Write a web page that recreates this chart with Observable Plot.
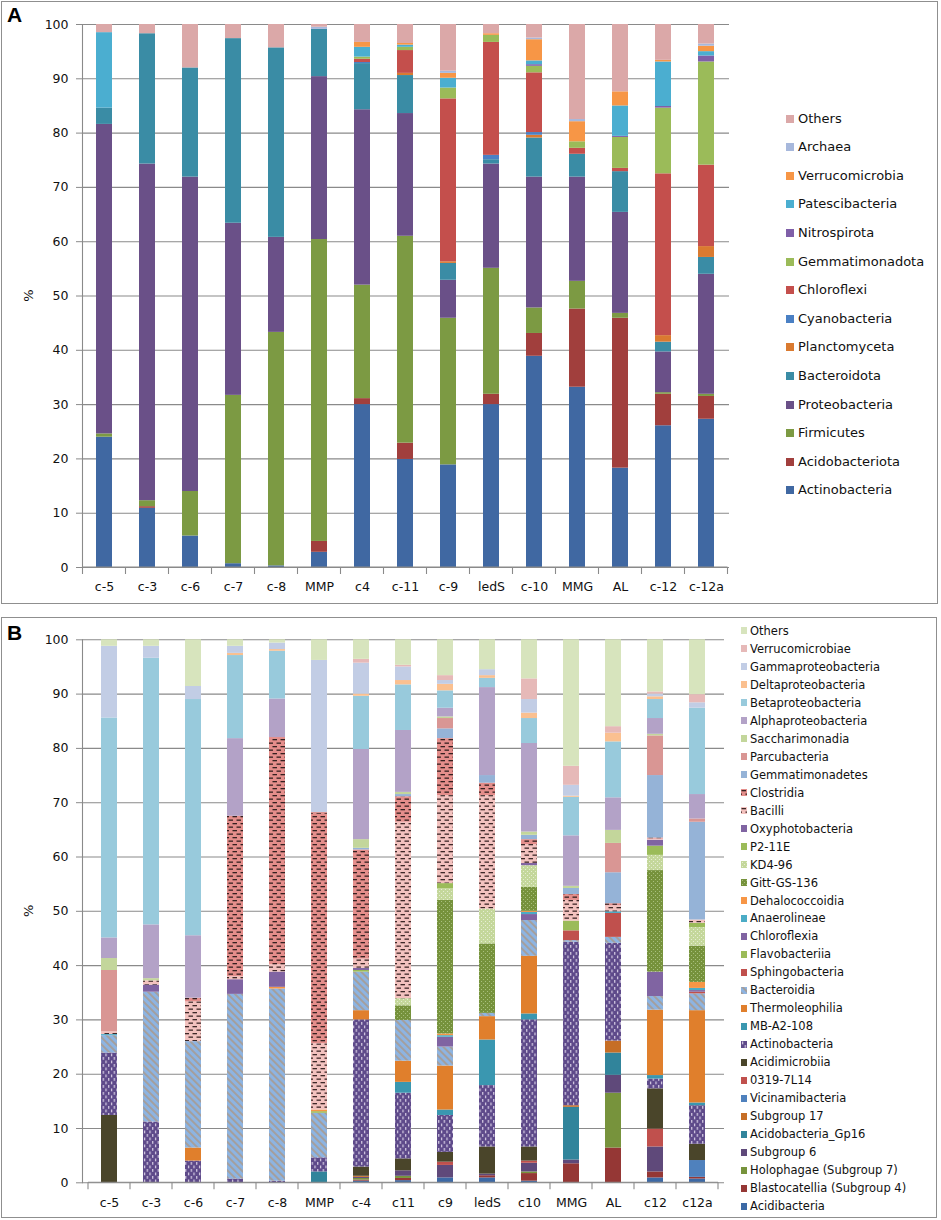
<!DOCTYPE html>
<html><head><meta charset="utf-8">
<script src="https://cdn.jsdelivr.net/npm/d3@7"></script>
<script src="https://cdn.jsdelivr.net/npm/@observablehq/plot@0.6"></script>
<style>
body{margin:0;background:#fff;font-family:"DejaVu Sans",sans-serif;color:#111;}
#wrap{position:relative;width:941px;height:1220px;overflow:hidden;}
.frame{position:absolute;border:1.5px solid #8f8f8f;box-sizing:border-box;}
.plabel{position:absolute;font:bold 21px "Liberation Sans",Arial,sans-serif;color:#000;}
.item{position:absolute;white-space:nowrap;display:flex;align-items:center;}
.item svg{flex:none;}
</style></head><body><div id="wrap"></div>
<script>
// ---------------- DATA ----------------
const samplesA = ["c-5","c-3","c-6","c-7","c-8","MMP","c4","c-11","c-9","ledS","c-10","MMG","AL","c-12","c-12a"];
const samplesB = ["c-5","c-3","c-6","c-7","c-8","MMP","c-4","c11","c9","ledS","c10","MMG","AL","c12","c12a"];
const yTicks = [0,10,20,30,40,50,60,70,80,90,100];

// Panel A (phyla), stacked bottom -> top
const actinobacteriaA  = [24.0,10.9,5.8,0.7,0.3,2.8,30.0,19.9,18.9,30.0,38.9,33.2,18.3,26.1,27.3];
const acidobacteriotaA = [0,0.3,0,0,0,2.0,1.1,3.0,0,1.9,4.2,14.4,27.6,5.8,4.2];
const firmicutesA      = [0.6,1.1,8.2,31.0,43.0,55.6,20.9,38.1,27.0,23.2,4.7,5.1,0.9,0.3,0.4];
const proteobacteriaA  = [57.0,62.0,57.9,31.7,17.5,30.0,32.3,22.6,7.0,19.2,24.1,19.2,18.6,7.5,22.1];
const bacteroidotaA    = [3.0,24.0,20.1,34.0,34.9,8.7,8.5,7.0,3.1,0.8,7.2,4.2,7.5,1.8,3.1];
const planctomycetaA   = [0,0,0,0,0,0,0,0.4,0.3,0,0.5,0,0,1.2,2.0];
const cyanobacteriaA   = [0,0,0,0,0,0,0.2,0,0,0.8,0.5,0,0,0,0];
const chloroflexiA     = [0,0,0,0,0,0,0.6,4.2,30.0,20.8,11.0,1.1,0.6,29.8,15.0];
const gemmatimonadotaA = [0,0,0,0,0,0,0.4,0.6,2.0,1.3,1.2,1.2,5.7,12.1,19.0];
const nitrospirotaA    = [0,0,0,0,0,0,0,0,0,0,0.3,0,0.2,0.3,1.1];
const patescibacteriaA = [13.9,0,0,0,0,0,1.8,0.4,1.8,0,0.7,0,5.6,8.2,0.8];
const verrucomicrobiaA = [0,0,0,0,0,0,0.9,0.3,0.9,0.3,3.9,3.7,2.6,0.3,1.0];
const archaeaA         = [0,0,0,0,0,0.4,0,0,0.4,0,0.3,0.4,0,0,0.4];
const othersA          = [1.5,1.7,8.0,2.6,4.3,0.5,3.3,3.5,8.6,1.7,2.5,17.5,12.4,6.6,3.6];

// Panel B (classes), stacked bottom -> top
const acidibacteriaB    = [0,0,0,0,0,0,0.3,0.4,0.9,0.9,0.3,0,0,0.9,0.7];
const blastocatelliaB   = [0,0,0,0,0,0,0.2,0.4,0,0.4,1.4,3.5,6.4,1.1,0.3];
const holophagaeB       = [0,0,0,0,0,0,0.3,0.4,0,0,0.3,0,10.1,0,0];
const subgroup6B        = [0,0,0,0,0,0,0.2,1.0,2.3,0.3,1.6,0.7,3.3,4.6,0];
const gp16B             = [0,0,0,0,0,2.0,0,0,0,0,0,9.7,4.1,0,0];
const subgroup17B       = [0,0,0,0,0,0,0.2,0,0,0,0,0.3,2.2,0,0];
const vicinamibacteriaB = [0,0,0,0,0,0,0,0,0,0,0,0,0,0,3.1];
const x0319B            = [0,0,0,0,0,0,0,0,0.6,0,0.4,0,0,3.3,0];
const acidimicrobiiaB   = [12.4,0,0,0,0,0,1.7,2.2,1.8,5.0,2.6,0,0,7.4,3.0];
const actinobacteriaB   = [11.5,11.2,4.0,0.7,0.3,2.6,27.1,12.1,6.8,11.3,23.4,30.1,18.0,1.8,7.1];
const mbA2108B          = [0,0,0,0,0,0,0,2.0,1.0,8.4,1.1,0,0,0.65,0.5];
const thermoleophiliaB  = [0,0,2.4,0,0,0,1.7,3.9,8.1,4.3,10.6,0,0,12.05,17.0];
const bacteroidiaB      = [3.2,23.9,19.6,34.0,35.4,8.2,7.1,7.5,3.5,0.6,6.6,0.3,1.1,2.5,3.1];
const sphingobacteriaB  = [0,0,0,0,0,0,0,0,0,0,0,1.8,4.4,0,0.3];
const flavobacteriiaB   = [0,0,0,0,0,0.3,0.3,0,0,0,0,1.8,0,0,0];
const chloroflexiaB     = [0,0,0,0,0,0,0.4,0,1.8,0,1.1,0,0,4.5,0.3];
const anaerolineaeB     = [0.2,0,0,0,0,0,0,0,0.3,0,0.4,0,0.3,0,0.4];
const dehalococcoidiaB  = [0,0,0,0,0.3,0.3,0,0,0.3,0,0.2,0,0,0,1.1];
const gittB             = [0,0,0,0,0,0,0,2.7,24.6,12.8,4.4,0,0,18.7,6.7];
const kd496B            = [0,0,0,0,0,0,0,1.3,2.2,6.4,4.0,0,0,2.8,3.4];
const p211eB            = [0,0,0,0,0,0,0,0,0.9,0,0,0,0,1.7,0.8];
const oxyphotoB         = [0,1.3,0,2.7,2.8,0,0,0,0,0,0.4,0,0,1.1,0];
const bacilliB          = [0.5,0.8,7.3,0.6,1.4,12.2,1.7,32.5,16.2,20.9,3.5,3.8,1.1,0.2,0.6];
const clostridiaB       = [0,0,0.7,29.5,41.8,42.4,20.1,4.7,10.5,2.3,0.9,1.1,0.4,0.2,0];
const gemmatimonadetesB = [0,0,0,0,0,0,0.3,0.4,1.8,1.4,0.8,1.1,5.7,11.5,18.0];
const parcubacteriaB    = [11.3,0,0,0,0,0.2,0,0,1.9,0,0,0,5.4,7.3,0.6];
const saccharimonadiaB  = [2.2,0.4,0,0,0,0,1.6,0.4,0.3,0,0.6,0.4,2.4,0.3,0];
const alphaB            = [3.8,9.9,11.5,14.3,7.1,0,16.6,11.4,1.6,16.2,16.3,9.3,6.0,2.9,4.5];
const betaB             = [40.5,49.1,43.5,15.3,8.8,0,9.8,8.4,3.2,1.7,4.6,7.1,10.3,3.5,15.9];
const deltaB            = [0,0,0,0.4,0.3,0,0.4,0.8,1.2,0.5,1.0,0.2,1.6,0.5,0];
const gammaB            = [13.2,2.2,2.4,1.3,1.2,28.0,5.7,2.5,0.7,1.1,2.5,2.0,0,0.5,1.0];
const verrucomicrobiaeB = [0,0,0,0,0,0,0.7,0.3,0.9,0,3.8,3.5,1.2,0.4,1.5];
const othersB           = [1.2,1.2,8.6,1.2,0.6,3.8,3.6,4.7,6.6,5.5,7.2,23.3,16.0,9.6,10.1];

const seriesA = [
  ["Actinobacteria", actinobacteriaA], ["Acidobacteriota", acidobacteriotaA], ["Firmicutes", firmicutesA],
  ["Proteobacteria", proteobacteriaA], ["Bacteroidota", bacteroidotaA], ["Planctomyceta", planctomycetaA],
  ["Cyanobacteria", cyanobacteriaA], ["Chloroflexi", chloroflexiA], ["Gemmatimonadota", gemmatimonadotaA],
  ["Nitrospirota", nitrospirotaA], ["Patescibacteria", patescibacteriaA], ["Verrucomicrobia", verrucomicrobiaA],
  ["Archaea", archaeaA], ["Others", othersA]
];
const seriesB = [
  ["Acidibacteria", acidibacteriaB], ["Blastocatellia (Subgroup 4)", blastocatelliaB], ["Holophagae (Subgroup 7)", holophagaeB],
  ["Subgroup 6", subgroup6B], ["Acidobacteria_Gp16", gp16B], ["Subgroup 17", subgroup17B], ["Vicinamibacteria", vicinamibacteriaB],
  ["0319-7L14", x0319B], ["Acidimicrobiia", acidimicrobiiaB], ["Actinobacteria", actinobacteriaB], ["MB-A2-108", mbA2108B],
  ["Thermoleophilia", thermoleophiliaB], ["Bacteroidia", bacteroidiaB], ["Sphingobacteria", sphingobacteriaB],
  ["Flavobacteriia", flavobacteriiaB], ["Chloroflexia", chloroflexiaB], ["Anaerolineae", anaerolineaeB],
  ["Dehalococcoidia", dehalococcoidiaB], ["Gitt-GS-136", gittB], ["KD4-96", kd496B], ["P2-11E", p211eB],
  ["Oxyphotobacteria", oxyphotoB], ["Bacilli", bacilliB], ["Clostridia", clostridiaB], ["Gemmatimonadetes", gemmatimonadetesB],
  ["Parcubacteria", parcubacteriaB], ["Saccharimonadia", saccharimonadiaB], ["Alphaproteobacteria", alphaB],
  ["Betaproteobacteria", betaB], ["Deltaproteobacteria", deltaB], ["Gammaproteobacteria", gammaB],
  ["Verrucomicrobiae", verrucomicrobiaeB], ["Others", othersB]
];

// ---------------- STYLES ----------------
const paletteA = ["#4068A2","#A13F3D","#7C9A43","#6A5088","#3A8CA5","#DA7A30","#4A80C4","#C44F4C","#9BBB59","#7F5FA8","#4BAED0","#F79646","#A7B8DC","#DBA8A8"];
const paletteB = ["#3C69A5","#953735","#77933C","#5F497A","#31849B","#C66E26","#4F81BD","#C0504D","#4A452A","url(#pActino)","#3A97B0",
  "#E07F2C","url(#pBacteroidia)","#C0504D","#9BBB59","#8064A2","#4BACC6","#F79646","url(#pGitt)","url(#pKD4)","#9BBB59",
  "#8064A2","url(#pBacilli)","url(#pClostridia)","#95B3D7","#D99694","#C3D69B","#B3A2C7","#98CADC","#FAC090","#C2CDE5","#E6B9B8","#D7E4BD"];

const patternDefs = `
<pattern id="pActino" patternUnits="userSpaceOnUse" width="5.5" height="7"><rect width="5.5" height="7" fill="#5E4A8A"/><rect x="1" y="0.5" width="1.1" height="2.8" fill="#E4DCEF"/><rect x="3.75" y="4" width="1.1" height="2.8" fill="#E4DCEF"/></pattern>
<pattern id="pBacilli" patternUnits="userSpaceOnUse" width="8" height="7"><rect width="8" height="7" fill="#F3C2BF"/><rect x="0.5" y="1" width="4.5" height="1.3" fill="#3E2828"/><rect x="4.5" y="4.5" width="3.5" height="1.3" fill="#3E2828"/><rect x="0" y="4.5" width="1" height="1.3" fill="#3E2828"/></pattern>
<pattern id="pClostridia" patternUnits="userSpaceOnUse" width="8" height="7"><rect width="8" height="7" fill="#E48E8B"/><rect x="0.5" y="1" width="4.5" height="1.3" fill="#352020"/><rect x="4.5" y="4.5" width="3.5" height="1.3" fill="#352020"/><rect x="0" y="4.5" width="1" height="1.3" fill="#352020"/></pattern>
<pattern id="pBacteroidia" patternUnits="userSpaceOnUse" width="5" height="5" patternTransform="rotate(-45)"><rect width="5" height="5" fill="#8DB4E2"/><rect x="0" y="0" width="1.9" height="5" fill="#A59E9A"/></pattern>
<pattern id="pGitt" patternUnits="userSpaceOnUse" width="4" height="4"><rect width="4" height="4" fill="#76923C"/><rect x="1" y="1" width="1" height="1" fill="#A9C07E"/><rect x="3" y="3" width="1" height="1" fill="#A9C07E"/></pattern>
<pattern id="pKD4" patternUnits="userSpaceOnUse" width="4" height="4"><rect width="4" height="4" fill="#C4D79B"/><rect x="1" y="1" width="1" height="1" fill="#E6EED3"/><rect x="3" y="3" width="1" height="1" fill="#E6EED3"/></pattern>`;

const wrap = document.getElementById("wrap");

function addFrame(l, t, w, h) {
  const d = document.createElement("div");
  d.className = "frame";
  Object.assign(d.style, {left: l + "px", top: t + "px", width: w + "px", height: h + "px"});
  wrap.appendChild(d);
}
function addLabel(txt, l, t) {
  const d = document.createElement("div");
  d.className = "plabel"; d.textContent = txt;
  Object.assign(d.style, {left: l + "px", top: t + "px"});
  wrap.appendChild(d);
}

function panel({samples, series, palette, top, height, mt, mb, mr, withDefs}) {
  const names = series.map(d => d[0]);
  const rows = [];
  series.forEach(([name, vals]) => vals.forEach((v, j) => { if (v > 0) rows.push({sample: samples[j], taxon: name, value: v}); }));
  const svg = Plot.plot({
    width: 941, height,
    marginLeft: 82, marginRight: mr, marginTop: mt, marginBottom: mb,
    style: {fontFamily: "DejaVu Sans, sans-serif", fontSize: "12.5px", color: "#111", background: "transparent", overflow: "visible"},
    x: {domain: samples, paddingInner: 0.62, paddingOuter: 0.31, label: null},
    y: {domain: [0, 100], label: null},
    color: {type: "ordinal", domain: names, range: palette},
    marks: [
      Plot.gridY(yTicks, {stroke: "#8a8a8a", strokeOpacity: 1, strokeWidth: 1.1}),
      Plot.barY(rows, {x: "sample", y: "value", fill: "taxon", order: names}),
      Plot.axisY(yTicks, {tickSize: 6, tickPadding: 8, stroke: "#8a8a8a", fill: "#111", label: null}),
      Plot.axisX({tickSize: 0, tickPadding: 15, fill: "#111", label: null}),
      Plot.frame({anchor: "left", stroke: "#8a8a8a", strokeWidth: 1.1})
    ]
  });
  svg.style.position = "absolute"; svg.style.left = "0px"; svg.style.top = top + "px";
  if (withDefs) d3.select(svg).insert("defs", ":first-child").html(patternDefs);
  // band boundary tick marks on the x axis, derived from the x scale
  const xs = svg.scale("x"), ys = svg.scale("y");
  const step = xs.step ?? (xs.apply(samples[1]) - xs.apply(samples[0]));
  const bw = xs.bandwidth;
  const half = (step - bw) / 2;
  const bounds = samples.map(s => xs.apply(s) - half).concat([xs.apply(samples[samples.length - 1]) + bw + half]);
  const y0 = ys.apply(0);
  const g = d3.select(svg).append("g").attr("stroke", "#8a8a8a").attr("stroke-width", 1.1);
  bounds.forEach(b => g.append("line").attr("x1", b).attr("x2", b).attr("y1", y0).attr("y2", y0 + 7));
  g.append("line").attr("x1", bounds[0]).attr("x2", bounds[bounds.length - 1]).attr("y1", y0).attr("y2", y0);
  // "%" label
  d3.select(svg).append("text").attr("transform", `translate(33,${ys.apply(50)}) rotate(-90)`)
    .attr("text-anchor", "middle").attr("font-size", 13).attr("fill", "#111").text("%");
  wrap.appendChild(svg);
  return svg;
}

function legend(series, palette, {x, y0, dy, sw, sh, fs, gap}) {
  const n = series.length;
  for (let i = 0; i < n; i++) {
    const k = n - 1 - i;
    const d = document.createElement("div");
    d.className = "item";
    Object.assign(d.style, {left: x + "px", top: (y0 + i * dy - fs * 0.7) + "px", fontSize: fs + "px", height: (fs * 1.4) + "px", lineHeight: (fs * 1.4) + "px"});
    d.innerHTML = `<svg width="${sw}" height="${sh}" style="margin-right:${gap}px"><rect width="${sw}" height="${sh}" fill="${palette[k]}"/></svg><span>${series[k][0]}</span>`;
    wrap.appendChild(d);
  }
}

addFrame(1, 1, 937, 603);
addFrame(1, 617, 936, 601);
panel({samples: samplesA, series: seriesA, palette: paletteA, top: 0, height: 603, mt: 24, mb: 36, mr: 212, withDefs: false});
panel({samples: samplesB, series: seriesB, palette: paletteB, top: 612, height: 603, mt: 27.3, mb: 32.7, mr: 217, withDefs: true});
addLabel("A", 7, 3);
addLabel("B", 7, 621);
legend(seriesA, paletteA, {x: 786, y0: 118.7, dy: 28.6, sw: 8, sh: 8, fs: 13, gap: 4});
legend(seriesB, paletteB, {x: 741, y0: 631, dy: 17.97, sw: 6, sh: 7, fs: 11.5, gap: 3});
</script></body></html>
